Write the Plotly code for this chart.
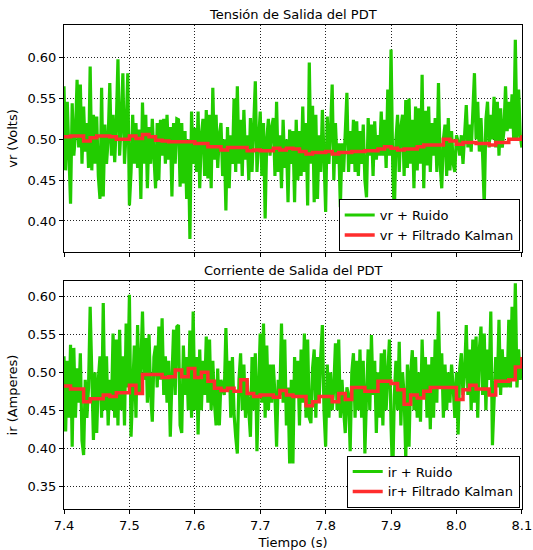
import numpy as np
import plotly.graph_objects as go

# ---------------- data ----------------
T_START = 7.4
DT_NOISE = 0.0025
DT_KALMAN = 0.01

vr_ruido = [
    0.565, 0.462, 0.546, 0.470, 0.421, 0.544, 0.480, 0.505, 0.573, 0.490,
    0.567, 0.470, 0.540, 0.485, 0.520, 0.465, 0.589, 0.462, 0.530, 0.470,
    0.528, 0.455, 0.427, 0.563, 0.430, 0.518, 0.470, 0.500, 0.569, 0.480,
    0.530, 0.472, 0.520, 0.598, 0.480, 0.520, 0.581, 0.470, 0.510, 0.581,
    0.419, 0.460, 0.530, 0.470, 0.520, 0.465, 0.512, 0.427, 0.545, 0.470,
    0.530, 0.440, 0.515, 0.470, 0.525, 0.480, 0.440, 0.520, 0.450, 0.524,
    0.480, 0.525, 0.470, 0.530, 0.475, 0.515, 0.430, 0.520, 0.470, 0.525,
    0.524, 0.442, 0.520, 0.446, 0.510, 0.427, 0.500, 0.378, 0.534, 0.470,
    0.514, 0.460, 0.534, 0.440, 0.505, 0.525, 0.455, 0.536, 0.452, 0.530,
    0.440, 0.563, 0.475, 0.530, 0.465, 0.505, 0.520, 0.455, 0.500, 0.413,
    0.515, 0.440, 0.505, 0.470, 0.550, 0.460, 0.565, 0.470, 0.524, 0.455,
    0.536, 0.475, 0.505, 0.450, 0.526, 0.460, 0.510, 0.571, 0.460, 0.500,
    0.534, 0.455, 0.520, 0.403, 0.500, 0.525, 0.480, 0.515, 0.526, 0.455,
    0.546, 0.460, 0.505, 0.440, 0.524, 0.465, 0.500, 0.423, 0.512, 0.470,
    0.510, 0.423, 0.524, 0.450, 0.510, 0.455, 0.540, 0.460, 0.520, 0.419,
    0.594, 0.470, 0.541, 0.423, 0.530, 0.427, 0.505, 0.460, 0.536, 0.480,
    0.411, 0.528, 0.470, 0.512, 0.567, 0.450, 0.520, 0.470, 0.495, 0.417,
    0.495, 0.460, 0.520, 0.557, 0.460, 0.510, 0.470, 0.524, 0.460, 0.522,
    0.455, 0.510, 0.470, 0.518, 0.450, 0.429, 0.526, 0.480, 0.518, 0.455,
    0.522, 0.475, 0.505, 0.480, 0.534, 0.480, 0.524, 0.465, 0.561, 0.480,
    0.610, 0.470, 0.407, 0.500, 0.530, 0.460, 0.515, 0.530, 0.455, 0.548,
    0.465, 0.550, 0.470, 0.524, 0.440, 0.540, 0.462, 0.538, 0.470, 0.579,
    0.440, 0.535, 0.468, 0.540, 0.460, 0.520, 0.480, 0.526, 0.460, 0.569,
    0.470, 0.440, 0.500, 0.518, 0.455, 0.526, 0.462, 0.510, 0.470, 0.460,
    0.505, 0.497, 0.480, 0.505, 0.470, 0.500, 0.542, 0.490, 0.518, 0.485,
    0.524, 0.581, 0.500, 0.546, 0.485, 0.526, 0.480, 0.417, 0.524, 0.546,
    0.490, 0.530, 0.500, 0.552, 0.490, 0.546, 0.480, 0.538, 0.490, 0.510,
    0.565, 0.510, 0.546, 0.513, 0.555, 0.500, 0.622, 0.500, 0.561, 0.505,
    0.490,
]

vr_kalman = [
    0.503, 0.504, 0.504, 0.498, 0.502, 0.504, 0.504, 0.503, 0.500, 0.500,
    0.504, 0.501, 0.506, 0.503, 0.499, 0.498, 0.497, 0.497, 0.497, 0.497,
    0.495, 0.495, 0.491, 0.491, 0.487, 0.490, 0.490, 0.490, 0.486, 0.487,
    0.486, 0.486, 0.489, 0.487, 0.489, 0.488, 0.485, 0.482, 0.484, 0.484,
    0.485, 0.482, 0.484, 0.484, 0.485, 0.485, 0.486, 0.486, 0.488, 0.491,
    0.489, 0.487, 0.488, 0.488, 0.491, 0.493, 0.493, 0.493, 0.500, 0.498,
    0.494, 0.496, 0.496, 0.495, 0.495, 0.493, 0.496, 0.496, 0.500, 0.500,
    0.505,
]

ir_ruido = [
    0.521, 0.422, 0.515, 0.440, 0.536, 0.402, 0.532, 0.440, 0.505, 0.460,
    0.525, 0.410, 0.391, 0.490, 0.440, 0.480, 0.586, 0.490, 0.411, 0.500,
    0.420, 0.490, 0.521, 0.440, 0.591, 0.450, 0.521, 0.430, 0.490, 0.450,
    0.551, 0.440, 0.543, 0.430, 0.556, 0.450, 0.521, 0.430, 0.564, 0.480,
    0.602, 0.415, 0.470, 0.535, 0.440, 0.562, 0.470, 0.510, 0.580, 0.490,
    0.545, 0.460, 0.550, 0.470, 0.435, 0.520, 0.535, 0.480, 0.560, 0.490,
    0.571, 0.470, 0.521, 0.460, 0.515, 0.415, 0.490, 0.556, 0.470, 0.560,
    0.562, 0.430, 0.420, 0.535, 0.470, 0.520, 0.450, 0.555, 0.440, 0.580,
    0.450, 0.520, 0.418, 0.530, 0.450, 0.515, 0.470, 0.547, 0.460, 0.543,
    0.450, 0.515, 0.460, 0.430, 0.505, 0.430, 0.490, 0.480, 0.470, 0.558,
    0.480, 0.515, 0.440, 0.520, 0.445, 0.415, 0.393, 0.490, 0.525, 0.450,
    0.510, 0.440, 0.490, 0.450, 0.415, 0.520, 0.450, 0.525, 0.396, 0.480,
    0.551, 0.460, 0.564, 0.440, 0.535, 0.450, 0.510, 0.460, 0.510, 0.470,
    0.402, 0.490, 0.470, 0.564, 0.460, 0.543, 0.430, 0.480, 0.380, 0.490,
    0.380, 0.520, 0.470, 0.515, 0.430, 0.530, 0.460, 0.551, 0.440, 0.543,
    0.440, 0.433, 0.505, 0.530, 0.440, 0.520, 0.460, 0.522, 0.562, 0.450,
    0.402, 0.510, 0.440, 0.500, 0.450, 0.480, 0.538, 0.450, 0.543, 0.440,
    0.490, 0.450, 0.420, 0.480, 0.470, 0.396, 0.500, 0.525, 0.440, 0.515,
    0.450, 0.530, 0.440, 0.515, 0.393, 0.470, 0.530, 0.450, 0.549, 0.470,
    0.515, 0.420, 0.500, 0.440, 0.525, 0.430, 0.530, 0.450, 0.495, 0.543,
    0.430, 0.358, 0.470, 0.515, 0.450, 0.540, 0.430, 0.500, 0.470, 0.385,
    0.510, 0.402, 0.500, 0.529, 0.450, 0.520, 0.440, 0.500, 0.435, 0.543,
    0.470, 0.520, 0.440, 0.510, 0.425, 0.520, 0.440, 0.543, 0.460, 0.580,
    0.480, 0.525, 0.440, 0.510, 0.450, 0.500, 0.460, 0.510, 0.480, 0.440,
    0.500, 0.418, 0.505, 0.525, 0.470, 0.500, 0.562, 0.470, 0.530, 0.450,
    0.543, 0.460, 0.547, 0.440, 0.530, 0.560, 0.470, 0.551, 0.450, 0.530,
    0.490, 0.580, 0.404, 0.470, 0.520, 0.480, 0.569, 0.470, 0.530, 0.480,
    0.520, 0.480, 0.569, 0.480, 0.586, 0.490, 0.617, 0.480, 0.530, 0.490,
    0.520,
]

ir_kalman = [
    0.482, 0.478, 0.478, 0.461, 0.465, 0.465, 0.470, 0.468, 0.473, 0.473,
    0.483, 0.472, 0.497, 0.497, 0.497, 0.493, 0.494, 0.503, 0.494, 0.505,
    0.493, 0.500, 0.488, 0.479, 0.476, 0.479, 0.475, 0.490, 0.472, 0.468,
    0.470, 0.470, 0.467, 0.476, 0.470, 0.468, 0.468, 0.456, 0.461, 0.468,
    0.468, 0.461, 0.472, 0.464, 0.480, 0.480, 0.475, 0.475, 0.488, 0.488,
    0.485, 0.477, 0.458, 0.470, 0.466, 0.475, 0.480, 0.480, 0.480, 0.480,
    0.464, 0.477, 0.483, 0.478, 0.478, 0.470, 0.488, 0.488, 0.490, 0.507,
    0.520,
]

x_ticks = [7.4, 7.5, 7.6, 7.7, 7.8, 7.9, 8.0, 8.1]
vr_ticks = [0.40, 0.45, 0.50, 0.55, 0.60]
ir_ticks = [0.35, 0.40, 0.45, 0.50, 0.55, 0.60]

t_noise = T_START + DT_NOISE * np.arange(len(vr_ruido))
t_kalman = T_START + DT_KALMAN * np.arange(len(vr_kalman))

GREEN = "#22CC00"
RED = "#FF2D2D"
FONT = "DejaVu Sans"
FS = 13

fig = go.Figure()
fig.add_trace(go.Scatter(x=t_noise, y=vr_ruido, mode="lines", name="vr + Ruido",
                         line=dict(color=GREEN, width=3.2), xaxis="x", yaxis="y", legend="legend"))
fig.add_trace(go.Scatter(x=t_kalman, y=vr_kalman, mode="lines", name="vr + Filtrado Kalman",
                         line=dict(color=RED, width=3.5, shape="hv"), xaxis="x", yaxis="y", legend="legend"))
fig.add_trace(go.Scatter(x=t_noise, y=ir_ruido, mode="lines", name="ir + Ruido",
                         line=dict(color=GREEN, width=3.2), xaxis="x2", yaxis="y2", legend="legend2"))
fig.add_trace(go.Scatter(x=t_kalman, y=ir_kalman, mode="lines", name="ir+ Filtrado Kalman",
                         line=dict(color=RED, width=3.5, shape="hv"), xaxis="x2", yaxis="y2", legend="legend2"))

axis_common = dict(
    showline=True, linecolor="black", linewidth=1, mirror=True,
    showgrid=True, gridcolor="#222222", griddash="1px,2px", gridwidth=1,
    ticks="outside", ticklen=4, tickcolor="black", zeroline=False,
    tickfont=dict(family=FONT, size=FS, color="black"),
    ticklabeloverflow="allow", automargin=False,
)

X_RANGE = [7.4, 8.1002]

fig.update_layout(
    width=533, height=550,
    margin=dict(l=64, r=11, t=25, b=41),
    paper_bgcolor="white", plot_bgcolor="white",
    font=dict(family=FONT, size=FS, color="black"),
    xaxis=dict(domain=[0, 1], range=X_RANGE, tickvals=x_ticks, showticklabels=False,
               anchor="y", **axis_common),
    yaxis=dict(domain=[0.531, 1], range=[0.362, 0.640], tickvals=vr_ticks, tickformat=".2f",
               anchor="x", title=dict(text="vr (Volts)", standoff=6,
                                      font=dict(family=FONT, size=FS)), **axis_common),
    xaxis2=dict(domain=[0, 1], range=X_RANGE, tickvals=x_ticks, tickformat=".1f",
                anchor="y2", title=dict(text="Tiempo (s)", standoff=6,
                                        font=dict(family=FONT, size=FS)), **axis_common),
    yaxis2=dict(domain=[0, 0.471], range=[0.32, 0.62], tickvals=ir_ticks, tickformat=".2f",
                anchor="x2", title=dict(text="ir (Amperes)", standoff=6,
                                        font=dict(family=FONT, size=FS)), **axis_common),
    legend=dict(x=0.995, y=0.533, xanchor="right", yanchor="bottom",
                bgcolor="white", bordercolor="black", borderwidth=1,
                font=dict(family=FONT, size=FS), tracegroupgap=0,
                itemwidth=30),
    legend2=dict(x=0.995, y=0.003, xanchor="right", yanchor="bottom",
                 bgcolor="white", bordercolor="black", borderwidth=1,
                 font=dict(family=FONT, size=FS), tracegroupgap=0,
                 itemwidth=30),
    annotations=[
        dict(text="Tensión de Salida del PDT", xref="paper", yref="paper",
             x=0.5, y=1.0, xanchor="center", yanchor="bottom", yshift=1,
             showarrow=False, font=dict(family=FONT, size=FS)),
        dict(text="Corriente de Salida del PDT", xref="paper", yref="paper",
             x=0.5, y=0.471, xanchor="center", yanchor="bottom", yshift=1,
             showarrow=False, font=dict(family=FONT, size=FS)),
    ],
    showlegend=True,
)

fig.write_html("out.html")
